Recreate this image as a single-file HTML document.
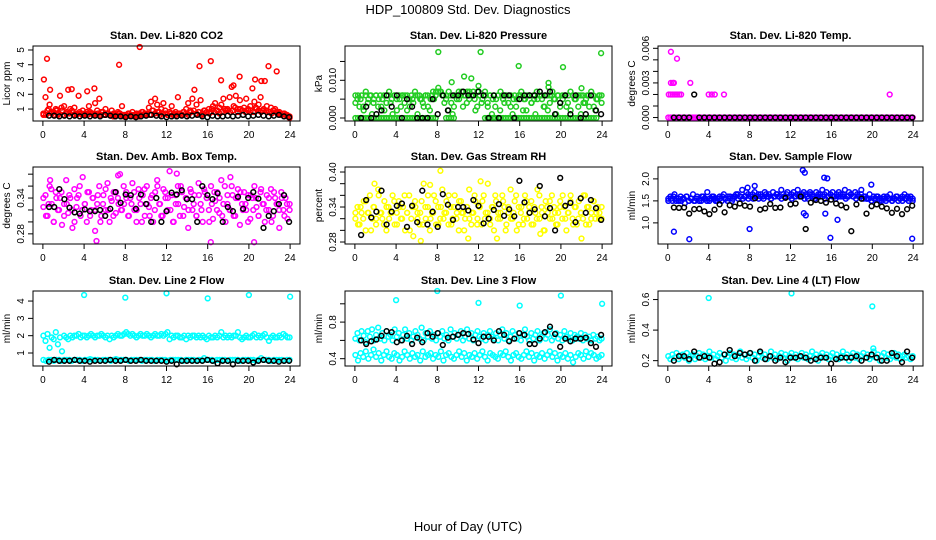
<!DOCTYPE html>
<html><head><meta charset="utf-8"><style>
html,body{margin:0;padding:0;background:#fff}
svg{display:block;font-family:"Liberation Sans",Arial,sans-serif}
</style></head><body>
<svg id="chart" width="936" height="540" viewBox="0 0 936 540">
<text x="468" y="14" text-anchor="middle" font-size="13">HDP_100809  Std. Dev. Diagnostics</text>
<text x="468" y="531" text-anchor="middle" font-size="13">Hour of Day (UTC)</text>
</svg>
<script>
// ===== data (hour-of-day sampled series) =====
const hourTicks=[0,4,8,12,16,20,24];
// CO2 (ppm)
const co2Main=[0.6,1.8,0.9,1.3,0.7,0.8,1.0,0.6,1.9,0.9,1.2,0.7,2.3,1.0,0.8,1.1,0.6,1.9,0.7,0.9,0.6,0.8,1.2,0.7,0.6,1.4,0.9,1.7,0.8,0.6,1.0,0.7,0.6,0.9,0.7,0.6,0.8,0.7,1.2,0.6,0.5,0.7,0.6,0.8,0.6,0.7,0.5,0.6,0.8,0.7,0.6,1.1,1.5,0.9,1.7,1.3,0.8,1.0,1.4,0.7,0.6,0.8,1.2,0.7,0.6,1.8,0.7,0.6,0.8,1.0,1.4,0.9,1.7,2.3,1.3,0.8,1.6,0.7,0.9,0.8,1.0,0.8,1.2,1.4,0.9,1.1,1.3,1.7,0.9,1.0,1.8,2.5,1.2,1.9,1.0,1.6,0.9,1.1,1.7,0.9,1.2,2.4,1.5,1.0,1.3,1.8,0.9,2.9,1.2,0.8,1.1,0.9,1.0,0.7,0.8,0.6,0.7,0.6,0.5,0.4];
const co2Base=[0.7,0.6,1.0,0.8,0.6,0.9,0.7,1.1,0.6,0.8,0.7,0.9,0.6,0.7,0.8,0.6,0.7,0.6,0.8,0.7,0.6,0.7,0.6,0.8,0.6,0.7,0.6,0.5,0.6,0.7,0.6,0.5,0.6,0.7,0.6,0.5,0.6,0.7,0.8,0.6,0.7,0.6,0.9,0.7,0.8,0.6,0.7,0.9,0.6,0.7,0.6,0.8,0.7,0.6,0.8,0.7,0.6,0.8,0.9,0.7,0.8,0.6,0.9,0.8,0.7,1.0,0.8,0.9,0.7,0.8,1.0,0.9,0.8,0.9,1.1,0.8,1.0,0.9,0.8,1.0,0.9,0.8,1.1,0.9,0.8,1.0,0.9,0.8,0.7,0.9,0.8,0.7,0.6,0.7,0.6,0.5];
const co2OutT=[0.1,0.4,0.7,2.8,4.3,5.0,7.4,9.4,15.2,16.3,17.3,18.5,19.1,20.6,21.2,21.9,22.7];
const co2OutV=[3.0,4.4,2.3,2.35,2.2,2.4,4.0,5.2,3.9,4.25,2.95,2.6,3.2,3.0,2.9,3.9,3.55];
const co2Black=[0.55,0.55,0.5,0.55,0.5,0.55,0.5,0.55,0.5,0.55,0.5,0.6,0.55,0.5,0.5,0.45,0.5,0.45,0.5,0.55,0.6,0.55,0.5,0.45,0.5,0.5,0.55,0.5,0.55,0.6,0.5,0.45,0.55,0.5,0.5,0.55,0.5,0.55,0.6,0.5,0.55,0.6,0.55,0.5,0.55,0.6,0.5,0.45];
// Pressure (0.001 kPa units)
const presMain=[6,5,3,6,2,6,4,6,1,5,6,3,6,5,2,6,6,4,1,6,5,6,3,6,6,2,5,6,4,6,1,6,5,3,6,6,2,6,5,7,7,7,6,4,6,2,6,1,6,5,7,6,3,6,7,5,6,7,2,7,6,4,6,6,3,6,1,6,5,6,2,6,4,6,6,3,1,6,5,6,6,2,5,6,6,4,6,1,5,6,6,3,6,2,6,6,5,1,6,4,6,6,3,6,2,6,5,6,6,1,6,4,6,3,6,6,2,5,6,6];
const presSpread=[4,6,5,3,7,5,6,4,6,5,3,6,4,7,5,6,2,5,6,4,6,3,5,7,6,5,4,6,3,5,7,6,8,7,6,5,7,4,3,6,5,7,6,4,7,6,5,3,6,5,7,4,6,5,3,6,7,5,6,4,6,5,3,6,7,5,2,6,4,5,7,6,5,3,6,4,7,5,6,3,5,6,4,7,6,5,3,6,4,5,6,7,3,5,6,4];
const presZero=[0,0,0,0,0,0,0,0,0,0,0,0,0,0,0,0,0,0,0,0,0,0,0,0,0,0,0,0,0,0,0,0,null,null,null,0,0,0,0,null,null,null,null,null,null,null,null,null,null,null,0,0,0,0,0,0,0,0,0,0,0,0,0,0,0,0,0,0,0,0,0,0,0,0,0,0,0,0,0,0,0,0,0,0,0,0,0,0,0,0,0,0,0,0,null,null];
const presOutT=[8.1,12.2,23.9,15.9,20.2,10.6,11.3,9.4,18.8,18.8,12.0,22.0];
const presOutV=[17.5,17.5,17.2,13.8,13.5,11.0,10.5,9.5,9.3,8.2,8.5,7.9];
const presBlack=[0,3,0,1,2,6,3,6,0,5,3,0,0,0,5,1,6,2,6,6,7,6,6,7,6,0,6,0,6,6,0,5,6,6,6,7,6,7,1,4,6,1,6,0,1,6,2,1];
// Li-820 temp (0.001 deg C units)
const tempMain=[0,0,0,0,0,0,0,0,0,0,0,0,0,0,0,0,0,0,0,0,0,0,0,0,0,0,0,0,0,0,0,0,0,0,0,0,0,0,0,0,0,0,0,0,0,0,0,0,0,0,0,0,0,0,0,0,0,0,0,0,0,0,0,0,0,0,0,0,0,0,0,0,0,0,0,0,0,0,0,0,0,0,0,0,0,0,0,0,0,0,0,0,0,0,0,0,0,0,0,0,0,0,0,0,0,0,0,0,0,0,0,0,0,0,0,0,0,0,0,0];
const tempOutT=[0.3,0.9,0.3,0.5,0.6,2.2,0.1,0.3,0.5,0.7,0.9,1.1,1.3,4.0,4.3,4.6,5.5,21.7];
const tempOutV=[5.7,5.1,3.0,3.0,3.0,3.0,2.0,2.0,2.0,2.0,2.0,2.0,2.0,2.0,2.0,2.0,2.0,2.0];
const tempBlack=[0,0,0,0,2,0,0,0,0,0,0,0,0,0,0,0,0,0,0,0,0,0,0,0,0,0,0,0,0,0,0,0,0,0,0,0,0,0,0,0,0,0,0,0,0,0,0,0];
// Amb box temp
const ambMain=[0.325,0.345,0.31,0.36,0.33,0.3,0.35,0.32,0.34,0.295,0.33,0.37,0.315,0.34,0.29,0.355,0.325,0.345,0.31,0.375,0.33,0.3,0.35,0.32,0.34,0.285,0.33,0.36,0.31,0.345,0.32,0.365,0.3,0.335,0.35,0.315,0.34,0.38,0.32,0.33,0.35,0.31,0.34,0.365,0.32,0.3,0.355,0.33,0.345,0.31,0.36,0.325,0.34,0.3,0.35,0.37,0.33,0.31,0.355,0.34,0.32,0.385,0.345,0.3,0.33,0.36,0.31,0.35,0.325,0.34,0.29,0.355,0.32,0.345,0.31,0.365,0.33,0.3,0.35,0.34,0.32,0.36,0.305,0.335,0.35,0.315,0.37,0.33,0.3,0.345,0.32,0.36,0.31,0.34,0.355,0.295,0.33,0.35,0.32,0.345,0.305,0.34,0.36,0.325,0.31,0.35,0.33,0.3,0.345,0.32,0.355,0.31,0.34,0.33,0.29,0.35,0.32,0.34,0.305,0.33];
const ambSpread=[0.34,0.31,0.33,0.355,0.3,0.34,0.32,0.35,0.31,0.33,0.345,0.32,0.3,0.34,0.36,0.32,0.33,0.35,0.31,0.34,0.32,0.345,0.3,0.33,0.355,0.32,0.34,0.31,0.35,0.33,0.32,0.36,0.34,0.31,0.33,0.35,0.32,0.34,0.3,0.355,0.33,0.31,0.345,0.32,0.36,0.33,0.31,0.35,0.34,0.32,0.3,0.345,0.33,0.36,0.31,0.34,0.32,0.35,0.33,0.31,0.345,0.32,0.355,0.34,0.3,0.33,0.35,0.32,0.34,0.31,0.36,0.33,0.32,0.345,0.31,0.34,0.35,0.32,0.33,0.3,0.345,0.32,0.34,0.31,0.355,0.33,0.32,0.34,0.3,0.35,0.33,0.32,0.34,0.31,0.33,0.32];
const ambOutT=[5.2,16.3,20.5,0.7,7.3,13.0,18.2];
const ambOutV=[0.268,0.266,0.266,0.37,0.378,0.381,0.375];
const ambBlack=[0.325,0.325,0.355,0.338,0.324,0.316,0.314,0.321,0.318,0.318,0.32,0.31,0.322,0.35,0.332,0.346,0.345,0.322,0.346,0.33,0.3,0.34,0.3,0.318,0.349,0.346,0.353,0.338,0.338,0.3,0.36,0.345,0.338,0.348,0.3,0.325,0.318,0.342,0.322,0.34,0.35,0.339,0.29,0.31,0.318,0.33,0.345,0.3];
// Gas stream RH
const rhMain=[0.32,0.34,0.31,0.33,0.35,0.3,0.33,0.36,0.32,0.34,0.31,0.37,0.33,0.32,0.35,0.3,0.34,0.33,0.36,0.31,0.33,0.35,0.32,0.34,0.3,0.33,0.36,0.32,0.29,0.34,0.33,0.31,0.35,0.38,0.32,0.34,0.3,0.33,0.36,0.31,0.34,0.32,0.37,0.33,0.35,0.31,0.34,0.32,0.36,0.33,0.3,0.35,0.33,0.32,0.34,0.37,0.31,0.33,0.35,0.32,0.34,0.31,0.36,0.33,0.38,0.32,0.34,0.3,0.35,0.33,0.32,0.36,0.34,0.31,0.33,0.37,0.32,0.35,0.3,0.34,0.33,0.31,0.36,0.32,0.34,0.35,0.31,0.33,0.37,0.32,0.34,0.3,0.35,0.33,0.32,0.36,0.34,0.31,0.33,0.35,0.32,0.34,0.3,0.33,0.36,0.32,0.34,0.31,0.35,0.33,0.32,0.36,0.34,0.31,0.33,0.35,0.32,0.34,0.33,0.32];
const rhSpread=[0.33,0.31,0.34,0.32,0.35,0.33,0.3,0.34,0.32,0.36,0.33,0.31,0.34,0.32,0.33,0.35,0.31,0.34,0.32,0.36,0.33,0.3,0.34,0.35,0.32,0.33,0.31,0.34,0.36,0.32,0.33,0.35,0.31,0.34,0.32,0.33,0.36,0.31,0.34,0.32,0.35,0.33,0.3,0.34,0.32,0.33,0.36,0.31,0.34,0.35,0.32,0.33,0.31,0.34,0.36,0.32,0.33,0.35,0.3,0.34,0.32,0.33,0.36,0.31,0.34,0.32,0.35,0.33,0.31,0.34,0.32,0.36,0.33,0.3,0.34,0.35,0.32,0.33,0.31,0.34,0.36,0.32,0.33,0.35,0.31,0.34,0.32,0.33,0.36,0.31,0.34,0.32,0.35,0.33,0.32,0.34];
const rhOutT=[6.4,8.3,11.0,13.8,18.0,22.0,1.9,12.2,7.3];
const rhOutV=[0.282,0.402,0.286,0.286,0.294,0.286,0.38,0.384,0.378];
const rhBlack=[0.292,0.352,0.322,0.332,0.368,0.31,0.332,0.342,0.346,0.306,0.342,0.314,0.368,0.31,0.332,0.306,0.362,0.344,0.318,0.34,0.34,0.334,0.352,0.342,0.312,0.32,0.335,0.345,0.325,0.336,0.324,0.385,0.348,0.33,0.336,0.376,0.324,0.338,0.3,0.39,0.342,0.347,0.314,0.355,0.33,0.352,0.338,0.318];
// Sample flow
const flowMain=[1.55,1.6,1.5,1.65,1.55,1.5,1.6,1.55,1.45,1.6,1.5,1.55,1.65,1.5,1.6,1.55,1.5,1.6,1.55,1.7,1.5,1.55,1.6,1.5,1.55,1.6,1.5,1.65,1.55,1.6,1.55,1.5,1.6,1.65,1.55,1.6,1.75,1.6,1.7,1.55,1.6,1.65,1.7,1.6,1.55,1.65,1.6,1.7,1.6,1.65,1.55,1.7,1.6,1.65,1.6,1.75,1.65,1.6,1.7,1.6,1.65,1.7,1.6,1.75,1.65,1.6,1.7,1.65,1.55,1.7,1.65,1.6,1.7,1.65,1.6,1.75,1.65,1.7,1.6,1.65,1.7,1.6,1.65,1.7,1.6,1.65,1.75,1.6,1.7,1.65,1.6,1.7,1.65,1.6,1.75,1.55,1.6,1.55,1.65,1.5,1.6,1.55,1.6,1.5,1.55,1.6,1.5,1.55,1.65,1.5,1.55,1.6,1.5,1.55,1.6,1.65,1.55,1.5,1.6,1.55];
const flowSpread=[1.5,1.55,1.6,1.5,1.55,1.5,1.55,1.6,1.5,1.55,1.5,1.55,1.5,1.6,1.55,1.5,1.55,1.6,1.55,1.5,1.55,1.6,1.55,1.5,1.6,1.55,1.6,1.65,1.6,1.55,1.6,1.65,1.6,1.55,1.6,1.65,1.6,1.55,1.65,1.6,1.55,1.6,1.65,1.6,1.55,1.6,1.65,1.6,1.55,1.6,1.65,1.6,1.65,1.55,1.6,1.65,1.6,1.55,1.6,1.65,1.6,1.55,1.6,1.65,1.6,1.55,1.6,1.65,1.6,1.55,1.6,1.65,1.6,1.55,1.6,1.65,1.6,1.55,1.55,1.5,1.55,1.6,1.55,1.5,1.55,1.6,1.55,1.5,1.55,1.6,1.55,1.5,1.55,1.6,1.55,1.5];
const flowOutT=[0.6,2.1,8.0,13.2,13.4,13.5,13.3,15.3,15.6,15.4,15.9,16.6,19.9,23.9,7.8,8.5];
const flowOutV=[0.8,0.63,0.86,2.2,2.14,1.17,1.22,2.03,2.01,1.21,0.66,1.07,1.87,0.64,1.8,1.84];
const flowBlack=[1.35,1.34,1.35,1.21,1.31,1.32,1.26,1.2,1.3,1.42,1.24,1.4,1.37,1.44,1.39,1.37,1.56,1.3,1.33,1.43,1.34,1.35,1.57,1.42,1.44,1.6,0.86,1.46,1.52,1.5,1.46,1.53,1.44,1.4,1.35,0.81,1.42,1.55,1.21,1.38,1.42,1.37,1.33,1.23,1.32,1.2,1.31,1.39];
// Line 2 flow
const l2Main=[2.0,1.7,2.1,1.3,1.9,1.8,2.2,1.5,1.9,1.1,2.0,1.9,1.8,2.0,1.9,2.0,2.0,2.1,1.9,2.0,2.0,1.9,2.0,2.1,2.0,1.9,2.0,2.0,2.1,2.0,1.9,2.0,1.8,2.0,1.9,2.0,2.1,2.0,2.0,2.1,2.2,2.1,2.0,2.1,2.0,1.9,2.0,2.1,2.0,2.0,2.1,2.0,1.9,2.0,2.1,2.0,2.0,2.1,2.0,2.1,2.2,1.8,2.0,1.9,2.0,2.0,1.9,1.9,2.0,1.8,2.0,1.9,2.0,2.0,1.9,2.0,1.9,2.0,1.9,1.8,2.0,1.9,1.9,2.0,1.9,2.0,2.2,1.9,2.0,1.9,2.0,1.9,2.0,2.0,2.2,1.9,1.8,1.9,2.0,1.9,1.9,2.0,2.1,1.9,2.0,1.9,2.0,2.1,1.9,1.7,1.9,2.0,1.9,1.9,2.0,1.9,2.1,2.0,1.9,1.9];
const l2Low=[0.6,0.55,0.6,0.6,0.55,0.6,0.6,0.55,0.6,0.6,0.6,0.55,0.6,0.6,0.6,0.55,0.6,0.6,0.65,0.6,0.6,0.6,0.55,0.6,0.6,0.6,0.55,0.6,0.65,0.6,0.6,0.6,0.6,0.55,0.6,0.6,0.6,0.6,0.55,0.6,0.6,0.6,0.6,0.55,0.6,0.6,0.6,0.6,0.55,0.6,0.6,0.6,0.6,0.6,0.55,0.6,0.6,0.6,0.6,0.55,0.6,0.6,0.7,0.6,0.6,0.6,0.55,0.6,0.6,0.6,0.6,0.55,0.6,0.6,0.6,0.6,0.55,0.6,0.6,0.6,0.6,0.6,0.55,0.6,0.7,0.6,0.6,0.6,0.55,0.6,0.6,0.6,0.6,0.55,0.6,0.6];
const l2OutT=[4.0,8.0,12.0,16.0,20.0,24.0];
const l2OutV=[4.35,4.2,4.45,4.15,4.35,4.25];
const l2Black=[0.5,0.6,0.55,0.55,0.55,0.6,0.55,0.55,0.5,0.55,0.55,0.55,0.6,0.55,0.55,0.6,0.55,0.55,0.6,0.55,0.55,0.55,0.55,0.5,0.55,0.35,0.55,0.55,0.55,0.55,0.55,0.6,0.55,0.4,0.55,0.55,0.35,0.55,0.55,0.55,0.45,0.55,0.6,0.55,0.55,0.5,0.55,0.55];
// Line 3 flow
const l3Main=[0.62,0.68,0.6,0.7,0.65,0.58,0.7,0.64,0.72,0.6,0.66,0.74,0.62,0.68,0.6,0.7,0.64,0.66,0.6,0.72,0.64,0.68,0.6,0.66,0.72,0.62,0.68,0.6,0.64,0.7,0.66,0.62,0.74,0.6,0.68,0.64,0.7,0.62,0.66,0.6,0.68,0.64,0.7,0.62,0.66,0.6,0.72,0.64,0.68,0.62,0.66,0.7,0.6,0.64,0.72,0.62,0.68,0.6,0.66,0.7,0.64,0.62,0.68,0.6,0.66,0.7,0.64,0.62,0.68,0.6,0.66,0.72,0.62,0.68,0.6,0.64,0.7,0.66,0.62,0.68,0.6,0.66,0.72,0.64,0.6,0.68,0.62,0.66,0.7,0.6,0.64,0.68,0.62,0.66,0.72,0.6,0.64,0.68,0.62,0.66,0.6,0.7,0.64,0.62,0.68,0.6,0.66,0.64,0.62,0.68,0.6,0.66,0.62,0.64,0.6,0.66,0.62,0.64,0.6,0.62];
const l3Low=[0.44,0.38,0.46,0.42,0.48,0.4,0.44,0.5,0.42,0.46,0.38,0.44,0.48,0.42,0.4,0.46,0.44,0.38,0.42,0.48,0.44,0.4,0.46,0.42,0.44,0.38,0.48,0.42,0.44,0.46,0.4,0.44,0.42,0.48,0.38,0.44,0.46,0.42,0.4,0.44,0.48,0.42,0.46,0.38,0.44,0.42,0.46,0.4,0.44,0.48,0.42,0.38,0.46,0.44,0.42,0.4,0.46,0.44,0.48,0.42,0.38,0.44,0.46,0.42,0.4,0.44,0.48,0.42,0.46,0.38,0.44,0.42,0.46,0.4,0.44,0.48,0.42,0.46,0.38,0.44,0.42,0.46,0.4,0.44,0.36,0.42,0.46,0.44,0.4,0.48,0.42,0.46,0.44,0.4,0.42,0.44];
const l3OutT=[4.0,8.0,12.0,16.0,20.0,24.0];
const l3OutV=[1.04,1.14,1.01,0.98,1.09,1.0];
const l3Black=[0.6,0.56,0.59,0.61,0.65,0.7,0.69,0.58,0.6,0.65,0.56,0.63,0.58,0.68,0.64,0.68,0.55,0.63,0.64,0.66,0.68,0.67,0.61,0.57,0.64,0.64,0.6,0.7,0.66,0.59,0.62,0.68,0.66,0.56,0.56,0.62,0.69,0.75,0.67,0.53,0.62,0.59,0.62,0.62,0.63,0.57,0.53,0.66];
// Line 4 flow
const l4Main=[0.23,0.21,0.24,0.22,0.25,0.21,0.23,0.24,0.22,0.25,0.2,0.23,0.24,0.21,0.23,0.25,0.22,0.24,0.21,0.23,0.26,0.22,0.24,0.21,0.23,0.25,0.22,0.24,0.2,0.23,0.25,0.22,0.24,0.21,0.23,0.26,0.22,0.24,0.21,0.23,0.25,0.22,0.24,0.2,0.23,0.25,0.22,0.24,0.21,0.23,0.26,0.22,0.24,0.21,0.23,0.25,0.22,0.24,0.2,0.23,0.25,0.22,0.24,0.21,0.23,0.25,0.22,0.24,0.21,0.23,0.26,0.22,0.24,0.2,0.23,0.25,0.22,0.24,0.21,0.23,0.25,0.22,0.24,0.21,0.23,0.26,0.22,0.24,0.2,0.23,0.25,0.22,0.24,0.21,0.23,0.25,0.22,0.24,0.21,0.23,0.26,0.22,0.24,0.2,0.23,0.25,0.22,0.24,0.21,0.23,0.25,0.22,0.24,0.21,0.23,0.24,0.22,0.23,0.21,0.23];
const l4OutT=[4.0,12.1,20.0,20.1];
const l4OutV=[0.61,0.64,0.555,0.28];
const l4Black=[0.2,0.23,0.23,0.21,0.26,0.22,0.23,0.22,0.18,0.19,0.24,0.27,0.23,0.25,0.24,0.25,0.2,0.26,0.21,0.23,0.2,0.22,0.19,0.22,0.22,0.23,0.22,0.2,0.21,0.22,0.22,0.18,0.21,0.22,0.22,0.22,0.23,0.2,0.22,0.24,0.22,0.2,0.2,0.25,0.23,0.19,0.26,0.22];

// ===== layout =====
const colL=[33,345,658], colR=[300,612,923];
const rowT=[46,167,291], rowB=[121,244,366];
const X0=-0.96, X1=24.96;
const panels=[
 {name:'co2',title:'Stan. Dev. Li-820 CO2',ylab:'Licor ppm',col:'#ff0000',r:0,c:0,dom:[0.19,5.27],ticks:[1,2,3,4,5],labels:['1','2','3','4','5'],scale:1,
  series:[co2Base,co2Main],outT:co2OutT,outV:co2OutV,black:co2Black},
 {name:'pressure',title:'Stan. Dev. Li-820 Pressure',ylab:'kPa',col:'#22cc22',r:0,c:1,dom:[-0.0008,0.0191],ticks:[0,0.005,0.010,0.015],labels:['0.000','','0.010',''],scale:0.001,
  series:[presZero,presSpread,presMain],outT:presOutT,outV:presOutV,black:presBlack},
 {name:'li820-temp',title:'Stan. Dev. Li-820 Temp.',ylab:'degrees C',col:'#ff00ff',r:0,c:2,dom:[-0.0003,0.0062],ticks:[0,0.001,0.002,0.003,0.004,0.005,0.006],labels:['0.000','','','0.003','','','0.006'],scale:0.001,
  series:[tempMain],outT:tempOutT,outV:tempOutV,black:tempBlack},
 {name:'amb-box-temp',title:'Stan. Dev. Amb. Box Temp.',ylab:'degrees C',col:'#ff00ff',r:1,c:0,dom:[0.263,0.392],ticks:[0.28,0.30,0.32,0.34,0.36,0.38],labels:['0.28','','','0.34','',''],scale:1,
  series:[ambSpread,ambMain],outT:ambOutT,outV:ambOutV,black:ambBlack},
 {name:'gas-stream-rh',title:'Stan. Dev. Gas Stream RH',ylab:'percent',col:'#ffff00',r:1,c:1,dom:[0.2766,0.4086],ticks:[0.28,0.30,0.32,0.34,0.36,0.38,0.40],labels:['0.28','','','0.34','','','0.40'],scale:1,
  series:[rhSpread,rhMain],outT:rhOutT,outV:rhOutV,black:rhBlack},
 {name:'sample-flow',title:'Stan. Dev. Sample Flow',ylab:'ml/min',col:'#0000ff',r:1,c:2,dom:[0.52,2.27],ticks:[1.0,1.5,2.0],labels:['1.0','1.5','2.0'],scale:1,
  series:[flowSpread,flowMain],outT:flowOutT,outV:flowOutV,black:flowBlack},
 {name:'line2-flow',title:'Stan. Dev. Line 2 Flow',ylab:'ml/min',col:'#00ffff',r:2,c:0,dom:[0.25,4.58],ticks:[1,2,3,4],labels:['1','2','3','4'],scale:1,
  series:[l2Low,l2Main],outT:l2OutT,outV:l2OutV,black:l2Black},
 {name:'line3-flow',title:'Stan. Dev. Line 3 Flow',ylab:'ml/min',col:'#00ffff',r:2,c:1,dom:[0.32,1.14],ticks:[0.4,0.6,0.8,1.0],labels:['0.4','','0.8',''],scale:1,
  series:[l3Low,l3Main],outT:l3OutT,outV:l3OutV,black:l3Black},
 {name:'line4-flow',title:'Stan. Dev. Line 4 (LT) Flow',ylab:'ml/min',col:'#00ffff',r:2,c:2,dom:[0.165,0.656],ticks:[0.2,0.4,0.6],labels:['0.2','0.4','0.6'],scale:1,
  series:[l4Main],outT:l4OutT,outV:l4OutV,black:l4Black}
];
const NS='http://www.w3.org/2000/svg';
const svg=document.getElementById('chart');
function mk(tag,attrs,parent){const e=document.createElementNS(NS,tag);for(const k in attrs)e.setAttribute(k,attrs[k]);parent.appendChild(e);return e;}
panels.forEach(p=>{
  const L=colL[p.c],R=colR[p.c],T=rowT[p.r],B=rowB[p.r];
  const g=mk('g',{},svg);
  
  
  const xs=h=>L+(h-X0)/(X1-X0)*(R-L);
  const ys=v=>B-(v-p.dom[0])/(p.dom[1]-p.dom[0])*(B-T);
  const t=mk('text',{x:(L+R)/2,y:T-7,'text-anchor':'middle','font-size':'11','font-weight':'bold'},g);
  t.textContent=p.title;
  
  
  const dots=mk('g',{fill:'none','stroke-width':'1.5'},g);
  
  
  function dot(h,v,color){
    if(v===null||v===undefined)return;
    const c=mk('circle',{cx:xs(h).toFixed(1),cy:ys(v).toFixed(1),r:'2.4',stroke:color},dots);
    
    
  }
  p.series.forEach(arr=>{const n=arr.length;arr.forEach((v,i)=>dot(0.05+i*(23.9/(n-1)),v===null?null:v*p.scale,p.col));});
  p.outT.forEach((h,i)=>dot(h,p.outV[i]*p.scale,p.col));
  const nb=p.black.length;
  p.black.forEach((v,i)=>dot(0.6+i*(23.3/(nb-1)),v*p.scale,'#000'));
  const box=mk('rect',{x:L,y:T,width:R-L,height:B-T,fill:'none',stroke:'#000','stroke-width':'1'},g);
  
  
  const xa=mk('g',{stroke:'#000','font-size':'10'},g);
  
  
  hourTicks.forEach(h=>{
    const x=xs(h);
    mk('line',{x1:x,x2:x,y1:B,y2:B+5},xa);
    const tl=mk('text',{x:x,y:B+17,'text-anchor':'middle',stroke:'none'},xa);
    tl.textContent=String(h);
  });
  const ya=mk('g',{stroke:'#000','font-size':'10'},g);
  
  
  p.ticks.forEach((v,i)=>{
    const y=ys(v);
    mk('line',{x1:L-5,x2:L,y1:y,y2:y},ya);
    if(p.labels[i]){
      const tl=mk('text',{x:0,y:0,'text-anchor':'middle',stroke:'none',transform:`translate(${L-9},${y}) rotate(-90)`},ya);
      tl.textContent=p.labels[i];
    }
  });
  const yt=mk('text',{x:0,y:0,'text-anchor':'middle','font-size':'10',transform:`translate(${L-23},${(T+B)/2}) rotate(-90)`},g);
  yt.textContent=p.ylab;
  
  
});
</script>
</body></html>
